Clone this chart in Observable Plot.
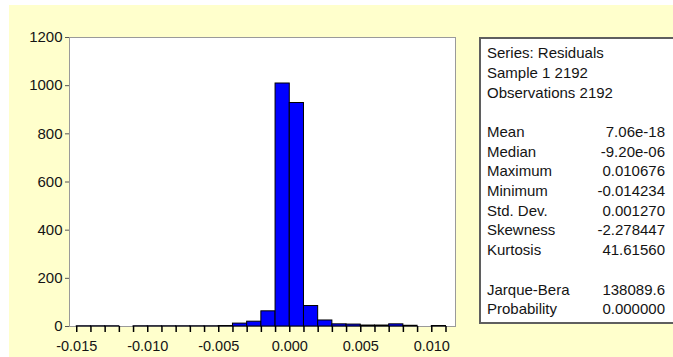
<!DOCTYPE html>
<html>
<head>
<meta charset="utf-8">
<script src="https://cdn.jsdelivr.net/npm/d3@7"></script>
<script src="https://cdn.jsdelivr.net/npm/@observablehq/plot@0.6"></script>
<style>
  html, body { margin: 0; padding: 0; background: #ffffff; overflow: hidden; }
  #wrap { position: relative; width: 673px; height: 357px; overflow: hidden; }
  #bg { position: absolute; left: 9px; top: 5px; width: 664px; height: 352px; background: #FFFFCC; }
  #chart { position: absolute; left: 0; top: 0; }
  #stats { position: absolute; left: 479px; top: 37px; width: 400px; height: 283px;
           background: #ffffff; border-top: 2px solid #5f5f5f; border-left: 2px solid #5f5f5f;
           border-bottom: 2px solid #5f5f5f; border-right: none;
           font-family: "Liberation Sans", Arial, sans-serif; font-size: 15px; color: #141414; }
  .row { position: absolute; left: 6px; width: 178px; height: 19.7px; line-height: 19.7px;
         display: flex; justify-content: space-between; white-space: nowrap; }
</style>
</head>
<body>
<div id="wrap">
  <div id="bg"></div>
  <div id="chart"></div>
  <div id="stats"></div>
</div>
<script>
// Histogram bins (left edge of each 0.001-wide bin) and counts
const binStarts = [-0.015, -0.014, -0.013, -0.011, -0.010, -0.009, -0.008, -0.007, -0.006, -0.005,
                   -0.004, -0.003, -0.002, -0.001, 0.000, 0.001, 0.002, 0.003, 0.004, 0.005,
                   0.006, 0.007, 0.008, 0.010];
const counts =    [1, 1, 1, 1, 1, 1, 1, 1, 1, 2,
                   12, 20, 63, 1009, 928, 85, 25, 9, 8, 4,
                   4, 9, 3, 2];
const binWidth = 0.001;

// Axis ticks
const yTicks = [0, 200, 400, 600, 800, 1000, 1200];
const xMinorTicks = [-0.015, -0.014, -0.013, -0.012, -0.011, -0.010, -0.009, -0.008, -0.007, -0.006,
                     -0.005, -0.004, -0.003, -0.002, -0.001, 0.000, 0.001, 0.002, 0.003, 0.004,
                     0.005, 0.006, 0.007, 0.008, 0.009, 0.010, 0.011];
const xLabelTicks = [-0.015, -0.010, -0.005, 0.000, 0.005, 0.010];

// Statistics panel
const headerLines = ["Series: Residuals", "Sample 1 2192", "Observations 2192"];
const statNames = ["Mean", "Median", "Maximum", "Minimum", "Std. Dev.", "Skewness", "Kurtosis"];
const statValues = ["7.06e-18", "-9.20e-06", "0.010676", "-0.014234", "0.001270", "-2.278447", "41.61560"];
const testNames = ["Jarque-Bera", "Probability"];
const testValues = ["138089.6", "0.000000"];

const bins = binStarts.map((s, i) => ({x1: s, x2: s + binWidth, count: counts[i]}));

const plot = Plot.plot({
  width: 673,
  height: 357,
  marginLeft: 69,
  marginRight: 218,
  marginTop: 37,
  marginBottom: 31,
  style: {background: "transparent", fontFamily: "Liberation Sans, Arial, sans-serif", fontSize: "15px", color: "#141414"},
  x: {domain: [-0.01551, 0.01167]},
  y: {domain: [0, 1200]},
  marks: [
    Plot.frame({fill: "white", stroke: "#9a9a9a", strokeWidth: 1}),
    Plot.rectY(bins, {x1: "x1", x2: "x2", y: "count", fill: "#0000ff", stroke: "#000000", strokeWidth: 1}),
    Plot.axisY({ticks: yTicks, tickSize: 4, tickPadding: 3, stroke: "#555", fontSize: 15, tickFormat: d => String(d), label: null}),
    Plot.axisX({ticks: xMinorTicks, tickSize: 6, stroke: "#000", strokeWidth: 1.5, tickFormat: () => "", label: null}),
    Plot.axisX({ticks: xLabelTicks, tickSize: 0, tickPadding: 14, fontSize: 14.5, tickFormat: d => d.toFixed(3), label: null})
  ]
});
document.getElementById("chart").appendChild(plot);

// Stats box text
const stats = document.getElementById("stats");
const rowH = 19.7;
const firstTop = 53 - 37 - 2 - rowH / 2;
function addRow(idx, left, right) {
  const r = document.createElement("div");
  r.className = "row";
  r.style.top = (firstTop + idx * rowH) + "px";
  const a = document.createElement("span"); a.textContent = left;
  const b = document.createElement("span"); b.textContent = right || "";
  r.appendChild(a); r.appendChild(b);
  stats.appendChild(r);
}
headerLines.forEach((t, i) => addRow(i, t, ""));
statNames.forEach((t, i) => addRow(4 + i, t, statValues[i]));
testNames.forEach((t, i) => addRow(12 + i, t, testValues[i]));
</script>
</body>
</html>
